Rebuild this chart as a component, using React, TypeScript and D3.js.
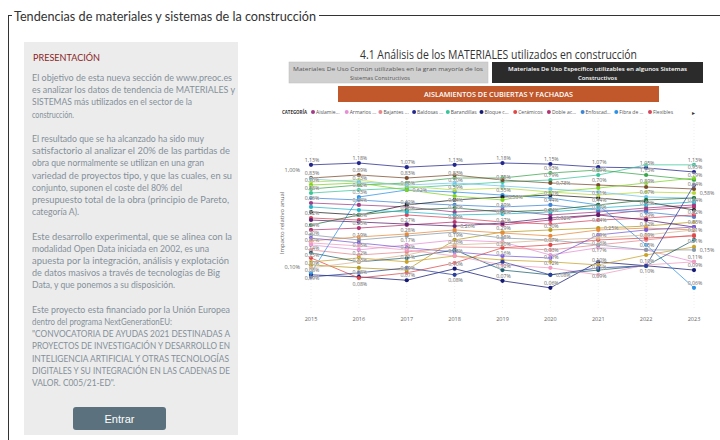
import React from 'react';
import * as d3 from 'd3';

const years = ['2015', '2016', '2017', '2018', '2019', '2020', '2021', '2022', '2023'];

const seriesNames = [
  'Aislamientos', 'Armarios', 'Bajantes', 'Baldosas', 'Barandillas', 'Bloque cerámico', 'Cerámicos',
  'Doble acristalamiento', 'Enfoscados', 'Fibra de vidrio', 'Flexibles', 'Hormigones', 'Impermeabilizantes',
  'Ladrillos', 'Láminas', 'Morteros', 'Paneles', 'Perfiles', 'Pinturas', 'Placas', 'Revestimientos',
  'Sellantes', 'Tejas', 'Tuberías', 'Vidrios', 'Yesos', 'Zócalos', 'Chapas', 'Canalones'
];

const seriesColors = [
  '#a03c87', '#e58fd6', '#e7868c', '#23268c', '#39c59a', '#151a73', '#e04848',
  '#b23472', '#3c84d8', '#2d92e6', '#d5455c', '#3aa64a', '#b59a1f', '#7a4a2a',
  '#222222', '#5a1f6e', '#b5d93a', '#7ed321', '#6ec6e8', '#c9a227', '#8899aa',
  '#e8893a', '#1f6e3a', '#7b5bd6', '#22b5c9', '#1f5f6e', '#f29bc0', '#d9b38c', '#2a3f9a'
];

const s01 = [0.457, 0.436, 0.416, 0.369, 0.387, 0.344, 0.369, 0.406, 0.436];
const s02 = [0.169, 0.150, 0.169, 0.190, 0.181, 0.133, 0.158, 0.150, 0.113];
const s03 = [0.150, 0.133, 0.143, 0.161, 0.158, 0.150, 0.169, 0.190, 0.214];
const s04 = [1.13, 1.18, 1.07, 1.13, 1.18, 1.15, 1.07, 1.05, 0.954];
const s05 = [0.579, 0.622, 0.652, 0.700, 0.752, 0.789, 0.888, 1.13, 1.13];
const s06 = [0.083, 0.079, 0.073, 0.096, 0.072, 0.061, 0.113, 0.103, 0.093];
const s07 = [0.124, 0.077, 0.087, 0.110, 0.158, 0.169, 0.190, 0.199, 0.209];
const s08 = [0.241, 0.252, 0.271, 0.291, 0.271, 0.305, 0.344, 0.387, 0.416];
const s09 = [0.514, 0.491, 0.457, 0.436, 0.416, 0.436, 0.387, 0.369, 0.328];
const s10 = [0.087, 0.527, 0.622, 0.593, 0.552, 0.514, 0.436, 0.169, 0.061];
const s11 = [0.320, 0.305, 0.344, 0.320, 0.291, 0.277, 0.305, 0.320, 0.344];
const s12 = [0.637, 0.700, 0.735, 0.827, 0.827, 0.931, 1.00, 0.888, 0.789];
const s13 = [0.105, 0.098, 0.093, 0.190, 0.229, 0.241, 0.252, 0.264, 0.291];
const s14 = [0.827, 0.888, 0.827, 0.888, 0.789, 0.735, 0.700, 0.668, 0.637];
const s15 = [0.369, 0.344, 0.436, 0.491, 0.527, 0.552, 0.514, 0.468, 0.387];
const s16 = [0.305, 0.291, 0.277, 0.264, 0.284, 0.320, 0.344, 0.305, 0.258];
const s17 = [0.752, 0.789, 0.684, 0.622, 0.652, 0.593, 0.552, 0.593, 0.579];
const s18 = [0.700, 0.735, 0.622, 0.539, 0.491, 0.593, 0.652, 0.735, 0.827];
const s19 = [0.807, 0.752, 0.700, 0.735, 0.684, 0.637, 0.593, 0.527, 0.514];
const s20 = [0.113, 0.124, 0.113, 0.130, 0.118, 0.113, 0.105, 0.133, 0.161];
const s21 = [0.214, 0.190, 0.209, 0.229, 0.199, 0.190, 0.169, 0.150, 0.150];
const s22 = [0.186, 0.204, 0.219, 0.241, 0.224, 0.209, 0.241, 0.252, 0.241];
const s23 = [0.271, 0.344, 0.387, 0.406, 0.369, 0.387, 0.436, 0.491, 0.514];
const s24 = [0.199, 0.177, 0.158, 0.143, 0.130, 0.124, 0.214, 0.241, 0.258];
const s25 = [0.416, 0.387, 0.369, 0.344, 0.352, 0.369, 0.406, 0.436, 0.468];
const s26 = [0.140, 0.113, 0.124, 0.150, 0.093, 0.083, 0.093, 0.103, 0.190];
const s27 = [0.177, 0.165, 0.150, 0.130, 0.105, 0.098, 0.083, 0.105, 0.113];
const s28 = [0.098, 0.113, 0.133, 0.169, 0.177, 0.190, 0.199, 0.214, 0.241];
const s29 = [0.079, 0.087, 0.098, 0.083, 0.113, 0.083, 0.098, 0.103, 0.700];

const seriesValues = [s01, s02, s03, s04, s05, s06, s07, s08, s09, s10, s11, s12, s13, s14, s15,
  s16, s17, s18, s19, s20, s21, s22, s23, s24, s25, s26, s27, s28, s29];

const legendLabels = ['Aislamie...', 'Armarios ...', 'Bajantes ...', 'Baldosas ...', 'Barandillas',
  'Bloque c...', 'Cerámicos', 'Doble ac...', 'Enfoscad...', 'Fibra de ...', 'Flexibles'];

const yTicks = [1, 0.1];

const paragraphs: { text: string; w: number }[][] = [
  [
    { text: 'El objetivo de esta nueva sección de www.preoc.es', w: 200 },
    { text: 'es analizar los datos de tendencia de MATERIALES y', w: 203 },
    { text: 'SISTEMAS más utilizados en el sector de la', w: 160 },
    { text: 'construcción.', w: 42 },
  ],
  [
    { text: 'El resultado que se ha alcanzado ha sido muy', w: 172 },
    { text: 'satisfactorio al analizar el 20% de las partidas de', w: 198 },
    { text: 'obra que normalmente se utilizan en una gran', w: 172 },
    { text: 'variedad de proyectos tipo, y que las cuales, en su', w: 200 },
    { text: 'conjunto, suponen el coste del 80% del', w: 150 },
    { text: 'presupuesto total de la obra (principio de Pareto,', w: 197 },
    { text: 'categoría A).', w: 47 },
  ],
  [
    { text: 'Este desarrollo experimental, que se alinea con la', w: 200 },
    { text: 'modalidad Open Data iniciada en 2002, es una', w: 177 },
    { text: 'apuesta por la integración, análisis y explotación', w: 197 },
    { text: 'de datos masivos a través de tecnologías de Big', w: 188 },
    { text: 'Data, y que ponemos a su disposición.', w: 143 },
  ],
  [
    { text: 'Este proyecto esta financiado por la Unión Europea', w: 198 },
    { text: 'dentro del programa NextGenerationEU:', w: 140 },
    { text: '"CONVOCATORIA DE AYUDAS 2021 DESTINADAS A', w: 198 },
    { text: 'PROYECTOS DE INVESTIGACIÓN Y DESARROLLO EN', w: 198 },
    { text: 'INTELIGENCIA ARTIFICIAL Y OTRAS TECNOLOGÍAS', w: 197 },
    { text: 'DIGITALES Y SU INTEGRACIÓN EN LAS CADENAS DE', w: 198 },
    { text: 'VALOR. C005/21-ED".', w: 83 },
  ],
];

const fmt = (v: number) => v.toFixed(2).replace('.', ',') + '%';

type Lbl = { x: number; y: number; t: string };

export default function App() {
  const x = d3.scalePoint<string>().domain(years).range([311, 694]);
  const y = d3.scaleLog().domain([0.1, 1]).range([267, 170]);
  const line = d3.line<number>().x((_, i) => x(years[i]) as number).y((d) => y(d));

  const lineH = 12.2;
  const textRows: { text: string; w: number; yy: number }[] = [];
  let row = 0;
  paragraphs.forEach((p) => {
    p.forEach((l) => {
      textRows.push({ ...l, yy: 81 + row * lineH });
      row++;
    });
    row++;
  });

  const legendX = d3.range(legendLabels.length).map((i) => 313 + i * 33.7);

  // Greedy data-label placement: skip labels that would collide with already placed ones
  const placed: { x0: number; x1: number; y0: number; y1: number }[] = [];
  const labels: Lbl[] = [];
  const LW = 18;
  const LH = 6.5;
  seriesValues.forEach((vals) => {
    vals.forEach((v, i) => {
      const px = x(years[i]) as number;
      const py = y(v);
      const cands = [
        { cx: px + 1, by: py - 3 },
        { cx: px + 1, by: py + 7.5 },
        { cx: px + 13, by: py + 2 },
      ];
      for (const c of cands) {
        const b = { x0: c.cx - LW / 2, x1: c.cx + LW / 2, y0: c.by - LH + 1, y1: c.by + 1 };
        const hit = placed.some((p) => !(b.x1 <= p.x0 || b.x0 >= p.x1 || b.y1 <= p.y0 || b.y0 >= p.y1));
        if (!hit) {
          placed.push(b);
          labels.push({ x: c.cx, y: c.by, t: fmt(v) });
          break;
        }
      }
    });
  });

  return (
    <svg width={720} height={440} style={{ position: 'absolute', left: 0, top: 0, background: '#fff' }}
      fontFamily="'Open Sans', sans-serif">
      {/* Fieldset frame */}
      <line x1={8} y1={15.5} x2={12} y2={15.5} stroke="#333" />
      <line x1={319} y1={15.5} x2={720} y2={15.5} stroke="#333" />
      <line x1={8.5} y1={15} x2={8.5} y2={440} stroke="#333" />
      <text x={14} y={20.5} fontSize={14} fill="#333" fontFamily="Lato, sans-serif" textLength={302}
        lengthAdjust="spacingAndGlyphs">Tendencias de materiales y sistemas de la construcción</text>

      {/* Left panel */}
      <rect x={24} y={42} width={214} height={393} fill="#ececec" />
      <text x={33} y={61} fontSize={9} fill="#8b1f24" fontFamily="Lato, sans-serif" textLength={67}
        lengthAdjust="spacingAndGlyphs">PRESENTACIÓN</text>
      {textRows.map((r, i) => (
        <text key={i} x={32} y={r.yy} fontSize={8.6} fill="#84909a" fontFamily="Lato, sans-serif"
          textLength={r.w} lengthAdjust="spacingAndGlyphs">{r.text}</text>
      ))}
      <rect x={73} y={407} width={93} height={23} rx={3} fill="#5b717d" />
      <text x={119.5} y={422.5} fontSize={11} fill="#fff" textAnchor="middle"
        fontFamily="'Liberation Sans', Arial, sans-serif">Entrar</text>

      {/* Chart header */}
      <text x={360} y={59} fontSize={13} fill="#333" textLength={277} lengthAdjust="spacingAndGlyphs">
        4.1 Análisis de los MATERIALES utilizados en construcción</text>
      <rect x={289} y={62} width={199} height={21} fill="#cfcfcf" stroke="#bdbdbd" strokeWidth={0.5} />
      <text x={293} y={71} fontSize={5.6} fill="#555" textLength={190} lengthAdjust="spacingAndGlyphs">
        Materiales De Uso Común utilizables en la gran mayoría de los</text>
      <text x={350} y={79.5} fontSize={5.6} fill="#555" textLength={60} lengthAdjust="spacingAndGlyphs">
        Sistemas Constructivos</text>
      <rect x={492} y={62} width={211} height={21} fill="#2b2b2b" />
      <text x={508} y={71} fontSize={5.6} fill="#fff" fontWeight="600" textLength={179}
        lengthAdjust="spacingAndGlyphs">Materiales De Uso Específico utilizables en algunos Sistemas</text>
      <text x={578} y={79.5} fontSize={5.6} fill="#fff" fontWeight="600" textLength={39}
        lengthAdjust="spacingAndGlyphs">Constructivos</text>
      <rect x={338} y={86} width={321} height={16} fill="#c0582c" />
      <text x={424} y={97} fontSize={7.5} fill="#fff" fontWeight="600" textLength={149}
        lengthAdjust="spacingAndGlyphs">AISLAMIENTOS DE CUBIERTAS Y FACHADAS</text>

      {/* Legend */}
      <text x={282} y={114} fontSize={5} fill="#333" fontWeight="bold" textLength={25}
        lengthAdjust="spacingAndGlyphs">CATEGORÍA</text>
      {legendLabels.map((l, i) => (
        <g key={l}>
          <circle cx={legendX[i]} cy={112} r={2} fill={seriesColors[i]} />
          <text x={legendX[i] + 3} y={114} fontSize={5} fill="#555">{l}</text>
        </g>
      ))}
      <text x={692} y={114.5} fontSize={6} fill="#333">▸</text>

      {/* Gridlines */}
      {years.map((yr) => (
        <line key={yr} x1={x(yr)} x2={x(yr)} y1={118} y2={308} stroke="#e4e4e4" strokeWidth={0.6}
          strokeDasharray="1,2" />
      ))}

      {/* Axes labels */}
      <text transform="translate(284,223) rotate(-90)" textAnchor="middle" fontSize={6} fill="#666">
        Impacto relativo anual</text>
      {yTicks.map((t) => (
        <text key={t} x={300} y={y(t) + 2} textAnchor="end" fontSize={5.5} fill="#666">{fmt(t)}</text>
      ))}
      {years.map((yr) => (
        <text key={yr} x={x(yr)} y={321} textAnchor="middle" fontSize={5.5} fill="#666">{yr}</text>
      ))}

      {/* Lines */}
      {seriesValues.map((vals, si) => (
        <path key={si} d={line(vals) || ''} fill="none" stroke={seriesColors[si]} strokeWidth={1}
          strokeOpacity={0.75} />
      ))}
      {seriesValues.map((vals, si) => (
        <g key={'p' + si}>
          {vals.map((v, i) => (
            <circle key={i} cx={x(years[i])} cy={y(v)} r={2.1} fill={seriesColors[si]} />
          ))}
        </g>
      ))}
      {labels.map((l, i) => (
        <text key={i} x={l.x} y={l.y} fontSize={5.2} fill="#666" textAnchor="middle" stroke="#fff"
          strokeWidth={0.8} strokeOpacity={0.6} style={{ paintOrder: 'stroke' }}>{l.t}</text>
      ))}
    </svg>
  );
}
